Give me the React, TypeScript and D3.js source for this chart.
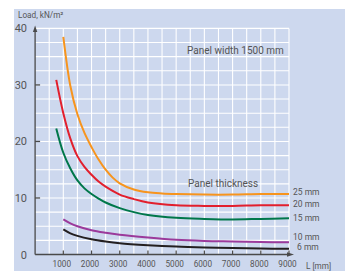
import React from "react";
import * as d3 from "d3";

const L25 = [1000, 1250, 1500, 1750, 2000, 2250, 2500, 2750, 3000, 3500, 4000, 4500, 5000, 6000, 7000, 8000, 9000];
const V25 = [38.5, 29.8, 24.8, 21.5, 19.0, 16.8, 15.0, 13.6, 12.6, 11.5, 11.0, 10.8, 10.7, 10.6, 10.6, 10.7, 10.7];
const L20 = [750, 1000, 1250, 1500, 1750, 2000, 2250, 2500, 3000, 3500, 4000, 5000, 6000, 7000, 8000, 9000];
const V20 = [30.9, 25.0, 20.5, 17.4, 15.5, 14.1, 12.9, 12.0, 10.6, 9.8, 9.2, 8.7, 8.6, 8.6, 8.7, 8.7];
const L15 = [750, 1000, 1250, 1500, 1750, 2000, 2250, 2500, 3000, 3500, 4000, 5000, 6000, 7000, 8000, 9000];
const V15 = [22.3, 18.0, 15.2, 13.1, 11.7, 10.7, 9.9, 9.2, 8.2, 7.5, 7.0, 6.5, 6.3, 6.2, 6.3, 6.4];
const L10 = [1000, 1250, 1500, 2000, 2500, 3000, 4000, 5000, 6000, 7000, 8000, 9000];
const V10 = [6.2, 5.5, 5.0, 4.3, 3.85, 3.5, 3.0, 2.6, 2.4, 2.3, 2.2, 2.15];
const L6 = [1000, 1250, 1500, 2000, 2500, 3000, 4000, 5000, 6000, 7000, 8000, 9000];
const V6 = [4.45, 3.75, 3.3, 2.7, 2.3, 2.0, 1.65, 1.4, 1.25, 1.15, 1.05, 1.0];

const SERIES_NAMES = ["25 mm", "20 mm", "15 mm", "10 mm", "6 mm"];
const SERIES_COLORS = ["#f7941d", "#e21f2d", "#00774a", "#9b3a9b", "#231f20"];
const SERIES_L = [L25, L20, L15, L10, L6];
const SERIES_V = [V25, V20, V15, V10, V6];
const LABEL_Y = [191.5, 203.5, 217.5, 237, 247];
const LABEL_X = [293, 293, 293, 293, 297];

const X_TICKS = [1000, 2000, 3000, 4000, 5000, 6000, 7000, 8000, 9000];
const Y_TICKS = [0, 10, 20, 30, 40];

const FONT = "'Liberation Sans Narrow', 'Arial Narrow', Roboto, sans-serif";

export default function App() {
  const x = d3.scaleLinear().domain([0, 9000]).range([35.1, 289]);
  const y = d3.scaleLinear().domain([0, 40]).range([254.5, 28.4]);
  const gridX = d3.range(500, 9001, 500);
  const gridY = d3.range(2.5, 40.01, 2.5);
  const line = d3
    .line<[number, number]>()
    .x((d) => x(d[0]))
    .y((d) => y(d[1]))
    .curve(d3.curveCatmullRom.alpha(0.5));

  return (
    <svg
      width={345}
      height={271}
      style={{ position: "absolute", left: 0, top: 0 }}
      fontFamily={FONT}
    >
      <rect x={14} y={9} width={331} height={262} fill="#cdd8ee" />
      {gridX.map((g) => (
        <line key={"gx" + g} x1={x(g)} x2={x(g)} y1={y(40)} y2={y(0)} stroke="#fff" strokeWidth={1.1} />
      ))}
      {gridY.map((g) => (
        <line key={"gy" + g} x1={x(0)} x2={x(9000)} y1={y(g)} y2={y(g)} stroke="#fff" strokeWidth={1.1} />
      ))}
      <line x1={x(0)} x2={x(0)} y1={y(0)} y2={30} stroke="#4a4a4a" strokeWidth={1.3} />
      <path d={`M${x(0) - 2.2},32 L${x(0)},25.5 L${x(0) + 2.2},32 Z`} fill="#4a4a4a" />
      <line x1={x(0)} x2={289} y1={y(0)} y2={y(0)} stroke="#4a4a4a" strokeWidth={1.3} />
      <path d={`M287,${y(0) - 2.2} L294,${y(0)} L287,${y(0) + 2.2} Z`} fill="#4a4a4a" />
      {Y_TICKS.filter((t) => t > 0 && t < 40).map((t) => (
        <line key={"yt" + t} x1={x(0)} x2={x(0) + 5} y1={y(t)} y2={y(t)} stroke="#4a4a4a" strokeWidth={1.3} />
      ))}
      {X_TICKS.map((t) => (
        <line key={"xt" + t} x1={x(t)} x2={x(t)} y1={y(0)} y2={y(0) - 4} stroke="#4a4a4a" strokeWidth={1.2} />
      ))}
      {Y_TICKS.map((t) => (
        <text key={"yl" + t} x={27} y={y(t) + 4} textAnchor="end" fontSize={11} fill="#555">
          {t}
        </text>
      ))}
      {X_TICKS.map((t) => (
        <text key={"xl" + t} x={x(t) - 1.5} y={266.5} textAnchor="middle" fontSize={8.2} fill="#555">
          {t}
        </text>
      ))}
      <text x={18} y={18} fontSize={8.2} fill="#555">
        Load, kN/m²
      </text>
      <text x={306} y={269} fontSize={8.2} fill="#555">
        L [mm]
      </text>
      <text x={187} y={53.5} fontSize={10} fill="#555">
        Panel width 1500 mm
      </text>
      <text x={188} y={187} fontSize={10} fill="#555">
        Panel thickness
      </text>
      {SERIES_NAMES.map((n, i) => {
        const pts: [number, number][] = SERIES_L[i].map((l, j) => [l, SERIES_V[i][j]]);
        return (
          <g key={n}>
            <path d={line(pts) || ""} fill="none" stroke={SERIES_COLORS[i]} strokeWidth={2} />
            <text x={LABEL_X[i]} y={LABEL_Y[i] + 3} fontSize={8.5} fill="#555">
              {n}
            </text>
          </g>
        );
      })}
    </svg>
  );
}
